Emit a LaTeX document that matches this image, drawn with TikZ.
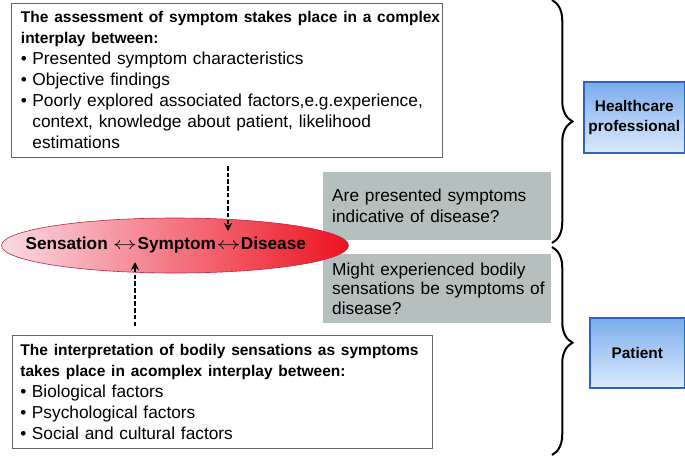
\documentclass[tikz,border=0pt]{standalone}
\usepackage{graphicx}
\usepackage{fontspec}
\setmainfont{Liberation Sans}
\usetikzlibrary{arrows.meta,decorations.pathreplacing,shapes.geometric}
\definecolor{graybox}{RGB}{181,192,190}
\definecolor{boxline}{RGB}{95,105,105}
\definecolor{bluetop}{RGB}{122,172,236}
\definecolor{bluebot}{RGB}{220,234,251}
\definecolor{blueline}{RGB}{40,102,192}
\definecolor{ellL}{RGB}{249,218,228}
\definecolor{ellM}{RGB}{243,150,180}
\definecolor{ellR}{RGB}{238,18,32}
\definecolor{ellline}{RGB}{185,40,70}
\newcommand{\boldtext}{\fontsize{15.5pt}{21pt}\selectfont\bfseries}
\newcommand{\regtext}{\fontsize{17.3pt}{21pt}\selectfont\mdseries}
\newcommand{\itm}{\makebox[11.5pt][l]{•}}
\newcommand{\itmind}{\hspace*{11.5pt}}
\newcommand{\dblarrow}{\makebox[25pt]{\scalebox{1.4}[1]{$\leftrightarrow$}}}
\begin{document}
\begin{tikzpicture}[x=1pt,y=-1pt,
  framebox/.style={draw=boxline, line width=0.9pt, fill=white, anchor=north west,
    align=left, inner ysep=0pt, font=\fontsize{17.3pt}{21pt}\selectfont},
  qbox/.style={fill=graybox, anchor=north west, minimum width=228pt,
    text width=210pt, inner xsep=9pt, inner ysep=0pt, align=left},
  rolebox/.style={draw=blueline, line width=1.5pt, top color=bluetop,
    bottom color=bluebot, anchor=north west, align=center, inner sep=0pt,
    font=\fontsize{15.4pt}{20pt}\selectfont\bfseries},
  dasharrow/.style={line width=2pt, dash pattern=on 4.5pt off 2.2pt,
    -{Stealth[length=8pt,width=8pt]}},
  bracestyle/.style={line width=2pt, decorate,
    decoration={brace, amplitude=20.5pt, aspect=#1}}
]
\useasboundingbox (0,0) rectangle (685,458);
\fill[white] (0,0) rectangle (685,458);

% top box
\node[framebox, inner xsep=9.5pt, text width=412pt, minimum height=154pt]
  (assess) at (11,3) {\boldtext
  \mbox{The assessment of symptom stakes place in a complex}\\
  \mbox{interplay between:}\\
  \regtext
  \mbox{\itm Presented symptom characteristics}\\
  \mbox{\itm Objective findings}\\
  \mbox{\itm Poorly explored associated factors,e.g.experience,}\\
  \mbox{\itmind context, knowledge about patient, likelihood}\\
  \mbox{\itmind estimations}};

% bottom box
\node[framebox, inner xsep=8pt, text width=404pt, minimum height=113pt]
  (interp) at (12,335) {\boldtext
  \mbox{The interpretation of bodily sensations as symptoms}\\
  \mbox{takes place in acomplex interplay between:}\\
  \regtext
  \mbox{\itm Biological factors}\\
  \mbox{\itm Psychological factors}\\
  \mbox{\itm Social and cultural factors}};

% question boxes
\node[qbox, minimum height=68pt, font=\fontsize{17.3pt}{21pt}\selectfont]
  (q1) at (323,172) {\mbox{Are presented symptoms}\\ \mbox{indicative of disease?}};
\node[qbox, minimum height=69pt, font=\fontsize{17.3pt}{19.5pt}\selectfont]
  (q2) at (323,254) {\mbox{Might experienced bodily}\\
  \mbox{sensations be symptoms of}\\ \mbox{disease?}};

% ellipse (on top of the question boxes)
\node[ellipse, minimum width=347pt, minimum height=55pt, draw=ellline,
  line width=0.6pt, left color=ellL, middle color=ellM, right color=ellR,
  inner sep=0pt, font=\fontsize{17.2pt}{20pt}\selectfont\bfseries]
  (ell) at (175,245.5)
  {\makebox[0pt]{\raisebox{-3pt}{Sensation\ \dblarrow Symptom\dblarrow Disease}\hspace{18.5pt}}};

% role boxes
\node[rolebox, minimum width=101pt, minimum height=71pt] (hp) at (583,81)
  {Healthcare\\professional};
\node[rolebox, minimum width=95pt, minimum height=70pt] (pat) at (589,317)
  {Patient};

% dashed arrows
\coordinate (t1) at (228,166);
\coordinate (t2) at (228,231);
\draw[dasharrow] (t1) -- (t2);
\coordinate (b1) at (135,326);
\coordinate (b2) at (135,262);
\draw[dasharrow] (b1) -- (b2);

% braces
\coordinate (br1a) at (552,0);
\coordinate (br1b) at (552,243);
\draw[bracestyle=0.5] (br1a) -- (br1b);
\coordinate (br2a) at (552,247);
\coordinate (br2b) at (552,455);
\draw[bracestyle=0.46] (br2a) -- (br2b);
\end{tikzpicture}
\end{document}
